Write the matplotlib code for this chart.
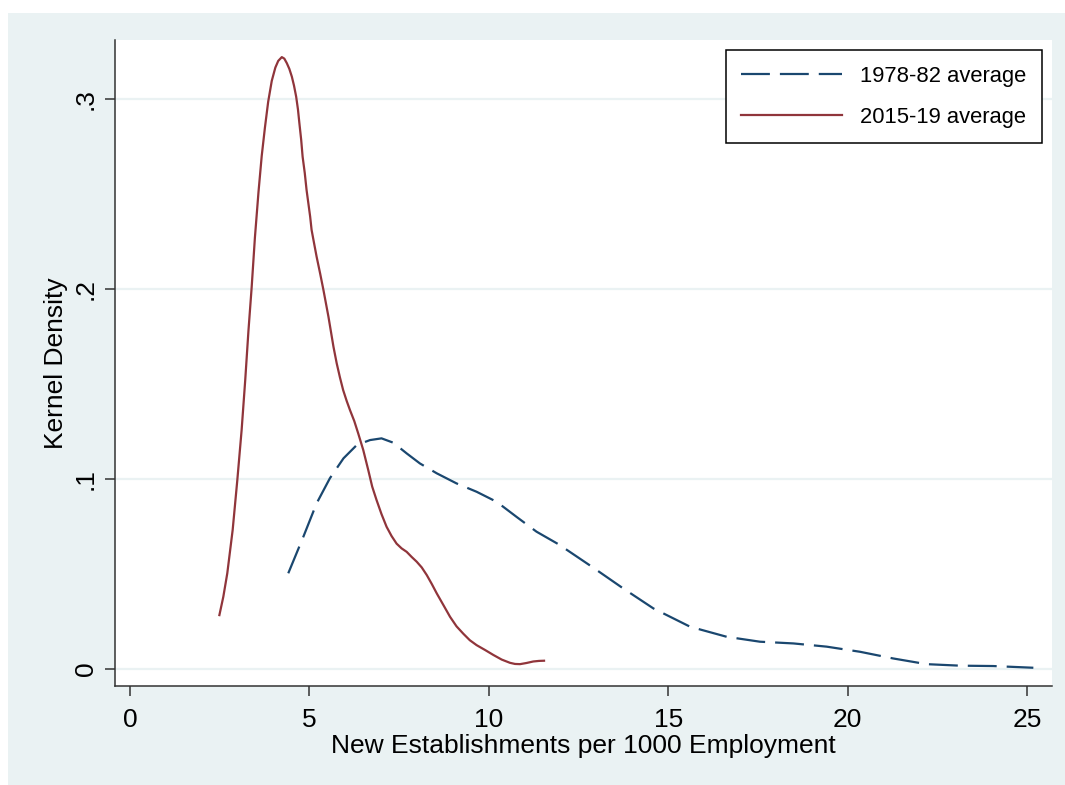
import matplotlib
matplotlib.use('Agg')
import matplotlib.pyplot as plt
from matplotlib.patches import Rectangle

plt.rcParams['font.family'] = ['Liberation Sans', 'DejaVu Sans']

# 1978-82 average (kernel density)
x_7882 = [4.41, 4.83, 5.20, 5.57, 5.95, 6.32, 6.69, 7.01, 7.34, 7.71, 8.08, 8.55,
          9.10, 9.66, 10.22, 10.78, 11.33, 11.95, 12.87, 13.75, 14.59, 15.61, 16.63,
          17.56, 18.49, 19.42, 20.35, 21.27, 22.20, 23.13, 24.06, 25.18]
y_7882 = [0.0504, 0.0696, 0.0872, 0.1004, 0.1109, 0.1179, 0.1205, 0.1214, 0.1191,
          0.1135, 0.1082, 0.1030, 0.0977, 0.0933, 0.0880, 0.0800, 0.0723, 0.0656,
          0.0539, 0.0424, 0.0319, 0.0223, 0.0170, 0.0144, 0.0135, 0.0118, 0.0091,
          0.0056, 0.0026, 0.0018, 0.0016, 0.0007]

# 2015-19 average
x_1519 = [2.49, 2.60, 2.71, 2.86, 2.99, 3.11, 3.21, 3.30, 3.39, 3.48, 3.58, 3.67,
          3.76, 3.85, 3.95, 4.05, 4.13, 4.23, 4.30, 4.37, 4.44, 4.51, 4.57, 4.63,
          4.68, 4.72, 4.77, 4.81, 4.87, 4.92, 5.02, 5.06, 5.13, 5.20, 5.30, 5.39,
          5.53, 5.67, 5.76, 5.85, 5.94, 6.04, 6.13, 6.25, 6.36, 6.50, 6.64, 6.75,
          6.87, 7.01, 7.15, 7.29, 7.43, 7.57, 7.71, 7.85, 7.99, 8.13, 8.27, 8.41,
          8.55, 8.74, 8.92, 9.10, 9.29, 9.47, 9.66, 9.90, 10.13, 10.36, 10.59,
          10.73, 10.87, 11.05, 11.24, 11.40, 11.54]
y_1519 = [0.0284, 0.0381, 0.0504, 0.0732, 0.0995, 0.1258, 0.1520, 0.1780, 0.2010,
          0.2270, 0.2510, 0.2700, 0.2850, 0.2985, 0.3095, 0.3165, 0.3200, 0.3220,
          0.3212, 0.3188, 0.3158, 0.3117, 0.3070, 0.3012, 0.2945, 0.2872, 0.2785,
          0.2696, 0.2610, 0.2521, 0.2381, 0.2311, 0.2240, 0.2170, 0.2080, 0.1995,
          0.1854, 0.1696, 0.1609, 0.1535, 0.1468, 0.1410, 0.1363, 0.1305, 0.1240,
          0.1153, 0.1047, 0.0960, 0.0890, 0.0815, 0.0749, 0.0700, 0.0660, 0.0635,
          0.0617, 0.0590, 0.0565, 0.0535, 0.0495, 0.0448, 0.0398, 0.0335, 0.0275,
          0.0225, 0.0186, 0.0152, 0.0126, 0.0100, 0.0074, 0.0050, 0.0033, 0.0027,
          0.0026, 0.0032, 0.0040, 0.0043, 0.0044]

x_ticks = [0, 5, 10, 15, 20, 25]
y_ticks = [0, 0.1, 0.2, 0.3]
y_tick_labels = ['0', '.1', '.2', '.3']

navy = '#1A476F'
maroon = '#90353B'
bg = '#EAF2F3'

fig = plt.figure(figsize=(10.65, 7.85), dpi=100, facecolor='white')
fig.patches.append(Rectangle((8 / 1065, 0), 1 - 8 / 1065, 772 / 785,
                             transform=fig.transFigure, facecolor=bg,
                             edgecolor='none', zorder=-10))
ax = fig.add_axes([115 / 1065, 1 - 686 / 785, (1052 - 115) / 1065, (686 - 40) / 785])
ax.set_zorder(1)
ax.set_facecolor('white')

ax.plot(x_7882, y_7882, color=navy, lw=1.6, dashes=(13, 4.5), label='1978-82 average')
ax.plot(x_1519, y_1519, color=maroon, lw=1.6, label='2015-19 average')

ax.set_xlim(-0.42, 25.7)
ax.set_ylim(-0.0089, 0.331)
ax.set_xticks(x_ticks)
ax.set_yticks(y_ticks)
ax.set_yticklabels(y_tick_labels, rotation=90, va='center')
ax.grid(axis='y', color=bg, lw=1.6)
ax.set_axisbelow(True)

for s in ['top', 'right']:
    ax.spines[s].set_visible(False)
for s in ['left', 'bottom']:
    ax.spines[s].set_color('#333333')
    ax.spines[s].set_linewidth(1.1)
ax.tick_params(length=7.5, width=1.1, color='#333333', labelsize=19, pad=5)
ax.tick_params(axis='x', pad=8)

ax.set_xlabel('New Establishments per 1000 Employment', fontsize=19, labelpad=2)
ax.set_ylabel('Kernel Density', fontsize=19, labelpad=4)

leg = ax.legend(loc='upper right', bbox_to_anchor=(1042 / 1065, 1 - 50 / 785),
                bbox_transform=fig.transFigure, borderaxespad=0, fancybox=False,
                edgecolor='black', framealpha=1, fontsize=15.8, handlelength=4.6,
                handletextpad=0.8, labelspacing=0.9, borderpad=0.72)
leg.get_frame().set_linewidth(1.1)

fig.savefig('out.png', dpi=100, facecolor=fig.get_facecolor())
